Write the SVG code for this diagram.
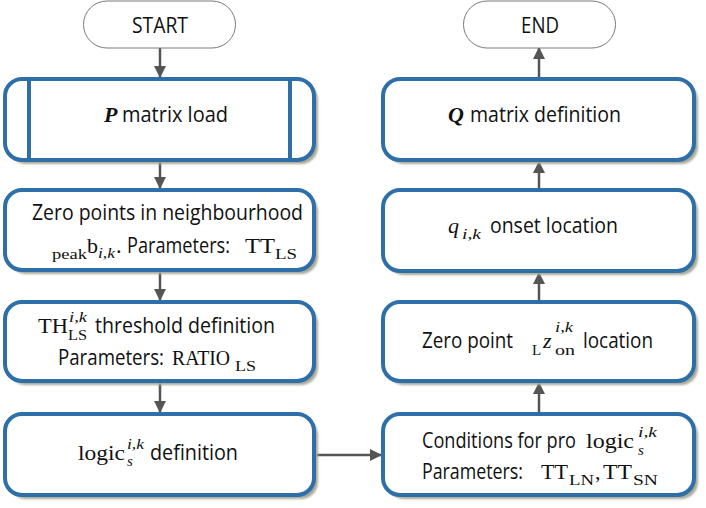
<svg xmlns="http://www.w3.org/2000/svg" width="706" height="508" viewBox="0 0 706 508">
<defs>
<style>
.box{fill:#fff;stroke:#2f6fa8;stroke-width:4}
.sh{fill:#a7a998}
.term{fill:#fff;stroke:#7a7a7a;stroke-width:1}
.t{font-family:"Open Sans","Liberation Sans",sans-serif;font-size:21.5px;fill:#111}
.m{font-family:"Liberation Serif","DejaVu Serif",serif;font-size:22px;fill:#111}
.s{font-family:"Liberation Serif","DejaVu Serif",serif;font-size:15px;fill:#111}
.i{font-style:italic}
.bi{font-style:italic;font-weight:bold}
.c{stroke:#555;stroke-width:2.5;fill:none}
</style>
<filter id="blur" x="-5%" y="-10%" width="110%" height="120%"><feGaussianBlur stdDeviation="1.2"/></filter>
<marker id="ah" markerWidth="12" markerHeight="12" viewBox="0 0 12 12" refX="11" refY="6" orient="auto" markerUnits="userSpaceOnUse">
<path d="M0,0 L12,6 L0,12 Z" fill="#555"/>
</marker>
</defs>
<rect width="706" height="508" fill="#fff"/>

<g id="connectors">
<line class="c" x1="160" y1="48" x2="160" y2="77" marker-end="url(#ah)"/>
<line class="c" x1="160" y1="162" x2="160" y2="188" marker-end="url(#ah)"/>
<line class="c" x1="160" y1="272" x2="160" y2="300" marker-end="url(#ah)"/>
<line class="c" x1="160" y1="383" x2="160" y2="412" marker-end="url(#ah)"/>
<line class="c" x1="316" y1="455" x2="381" y2="455" marker-end="url(#ah)"/>
<line class="c" x1="539" y1="412" x2="539" y2="383" marker-end="url(#ah)"/>
<line class="c" x1="539" y1="300" x2="539" y2="273" marker-end="url(#ah)"/>
<line class="c" x1="539" y1="188" x2="539" y2="162" marker-end="url(#ah)"/>
<line class="c" x1="539" y1="77" x2="539" y2="48" marker-end="url(#ah)"/>
</g>

<g id="start">
<rect class="term" x="83.5" y="1" width="152" height="47" rx="23.5"/>
<text class="t" x="132" y="33" textLength="56" lengthAdjust="spacingAndGlyphs">START</text>
</g>

<g id="end">
<rect class="term" x="463.5" y="1" width="152" height="47" rx="23.5"/>
<text class="t" x="521" y="33" textLength="38" lengthAdjust="spacingAndGlyphs">END</text>
</g>

<g id="p-load">
<rect class="sh" x="9" y="83" width="309" height="81" rx="17" filter="url(#blur)"/>
<rect class="box" x="5" y="79" width="309" height="81" rx="17"/>
<line class="box" x1="29" y1="79" x2="29" y2="160"/>
<line class="box" x1="290" y1="79" x2="290" y2="160"/>
<text class="m bi" x="104" y="122">P</text>
<text class="t" x="122" y="122" textLength="106" lengthAdjust="spacingAndGlyphs">matrix load</text>
</g>

<g id="zero-points">
<rect class="sh" x="9" y="194" width="309" height="80" rx="17" filter="url(#blur)"/>
<rect class="box" x="5" y="190" width="309" height="80" rx="17"/>
<text class="t" x="32" y="220" textLength="271" lengthAdjust="spacingAndGlyphs">Zero points in neighbourhood</text>
<text class="s" x="52" y="259" textLength="35" lengthAdjust="spacingAndGlyphs">peak</text>
<text class="m" x="87" y="253">b</text>
<text class="s i" x="98" y="258" textLength="17" lengthAdjust="spacingAndGlyphs">i,k</text>
<text class="t" x="116" y="253">.</text>
<text class="t" x="127" y="253" textLength="103" lengthAdjust="spacingAndGlyphs">Parameters:</text>
<text class="m" x="245" y="253" textLength="30" lengthAdjust="spacingAndGlyphs">TT</text>
<text class="s" x="275" y="259" textLength="22" lengthAdjust="spacingAndGlyphs">LS</text>
</g>

<g id="threshold">
<rect class="sh" x="9" y="306" width="309" height="79" rx="17" filter="url(#blur)"/>
<rect class="box" x="5" y="302" width="309" height="79" rx="17"/>
<text class="m" x="38" y="333" textLength="30" lengthAdjust="spacingAndGlyphs">TH</text>
<text class="s i" x="69" y="322" textLength="18" lengthAdjust="spacingAndGlyphs">i,k</text>
<text class="s" x="68" y="340" textLength="19" lengthAdjust="spacingAndGlyphs">LS</text>
<text class="t" x="95" y="333" textLength="180" lengthAdjust="spacingAndGlyphs">threshold definition</text>
<text class="t" x="58" y="365" textLength="106" lengthAdjust="spacingAndGlyphs">Parameters:</text>
<text class="m" x="172" y="365" textLength="58" lengthAdjust="spacingAndGlyphs">RATIO</text>
<text class="s" x="235" y="371" textLength="21" lengthAdjust="spacingAndGlyphs">LS</text>
</g>

<g id="logic">
<rect class="sh" x="9" y="418" width="309" height="81" rx="17" filter="url(#blur)"/>
<rect class="box" x="5" y="414" width="309" height="81" rx="17"/>
<text class="m" x="78" y="460" textLength="47" lengthAdjust="spacingAndGlyphs">logic</text>
<text class="s i" x="127" y="449" textLength="17" lengthAdjust="spacingAndGlyphs">i,k</text>
<text class="s i" x="127" y="466">s</text>
<text class="t" x="150" y="460" textLength="88" lengthAdjust="spacingAndGlyphs">definition</text>
</g>

<g id="q-matrix">
<rect class="sh" x="387" y="83" width="311" height="81" rx="17" filter="url(#blur)"/>
<rect class="box" x="383" y="79" width="311" height="81" rx="17"/>
<text class="m bi" x="448" y="122">Q</text>
<text class="t" x="470" y="122" textLength="151" lengthAdjust="spacingAndGlyphs">matrix definition</text>
</g>

<g id="q-onset">
<rect class="sh" x="387" y="194" width="311" height="81" rx="17" filter="url(#blur)"/>
<rect class="box" x="383" y="190" width="311" height="81" rx="17"/>
<text class="m i" x="448" y="233">q</text>
<text class="s i" x="462" y="239" textLength="19" lengthAdjust="spacingAndGlyphs">i,k</text>
<text class="t" x="490" y="233" textLength="128" lengthAdjust="spacingAndGlyphs">onset location</text>
</g>

<g id="zero-point-loc">
<rect class="sh" x="387" y="306" width="311" height="79" rx="17" filter="url(#blur)"/>
<rect class="box" x="383" y="302" width="311" height="79" rx="17"/>
<text class="t" x="422" y="348" textLength="91" lengthAdjust="spacingAndGlyphs">Zero point</text>
<text class="s" x="532" y="355">L</text>
<text class="m i" x="543" y="348">z</text>
<text class="s i" x="555" y="332" textLength="18" lengthAdjust="spacingAndGlyphs">i,k</text>
<text class="s" x="555" y="355" textLength="20" lengthAdjust="spacingAndGlyphs">on</text>
<text class="t" x="583" y="348" textLength="70" lengthAdjust="spacingAndGlyphs">location</text>
</g>

<g id="conditions">
<rect class="sh" x="387" y="418" width="311" height="81" rx="17" filter="url(#blur)"/>
<rect class="box" x="383" y="414" width="311" height="81" rx="17"/>
<text class="t" x="422" y="448" textLength="154" lengthAdjust="spacingAndGlyphs">Conditions for pro</text>
<text class="m" x="586" y="448" textLength="48" lengthAdjust="spacingAndGlyphs">logic</text>
<text class="s i" x="638" y="437" textLength="19" lengthAdjust="spacingAndGlyphs">i,k</text>
<text class="s i" x="638" y="455">s</text>
<text class="t" x="422" y="479" textLength="101" lengthAdjust="spacingAndGlyphs">Parameters:</text>
<text class="m" x="541" y="479" textLength="27" lengthAdjust="spacingAndGlyphs">TT</text>
<text class="s" x="569" y="485" textLength="25" lengthAdjust="spacingAndGlyphs">LN</text>
<text class="m" x="595" y="479">,</text>
<text class="m" x="603" y="479" textLength="29" lengthAdjust="spacingAndGlyphs">TT</text>
<text class="s" x="633" y="485" textLength="25" lengthAdjust="spacingAndGlyphs">SN</text>
</g>
</svg>
